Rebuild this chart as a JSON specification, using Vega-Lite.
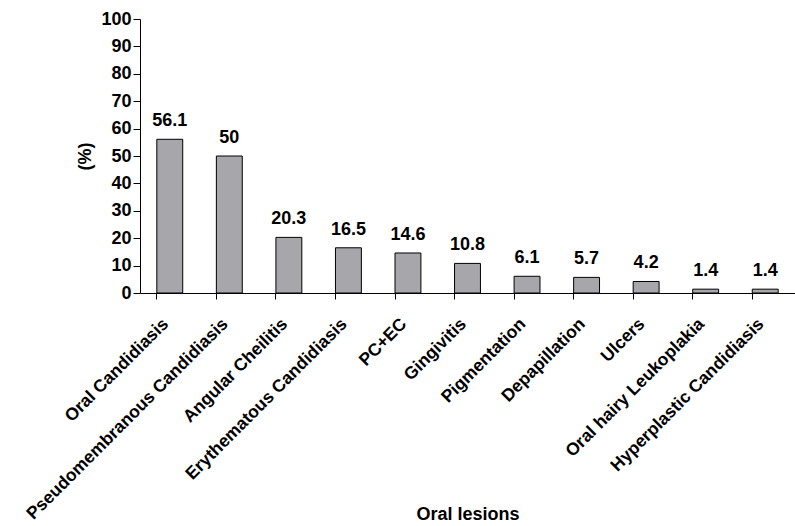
{
  "$schema": "https://vega.github.io/schema/vega-lite/v6.json",
  "width": 655,
  "height": 274,
  "autosize": {"type": "none"},
  "padding": {"left": 140, "top": 19, "right": 0, "bottom": 233},
  "background": "white",
  "config": {
    "view": {"stroke": null},
    "font": "Liberation Sans",
    "axis": {
      "domainColor": "black",
      "tickColor": "black",
      "labelColor": "black",
      "titleColor": "black",
      "labelFont": "Liberation Sans",
      "titleFont": "Liberation Sans",
      "labelFontWeight": "bold",
      "titleFontWeight": "bold",
      "labelFontSize": 18,
      "titleFontSize": 18,
      "grid": false
    }
  },
  "data": {
    "values": [
      {"lesion": "Oral Candidiasis", "pct": 56.1},
      {"lesion": "Pseudomembranous Candidiasis", "pct": 50},
      {"lesion": "Angular Cheilitis", "pct": 20.3},
      {"lesion": "Erythematous Candidiasis", "pct": 16.5},
      {"lesion": "PC+EC", "pct": 14.6},
      {"lesion": "Gingivitis", "pct": 10.8},
      {"lesion": "Pigmentation", "pct": 6.1},
      {"lesion": "Depapillation", "pct": 5.7},
      {"lesion": "Ulcers", "pct": 4.2},
      {"lesion": "Oral hairy Leukoplakia", "pct": 1.4},
      {"lesion": "Hyperplastic Candidiasis", "pct": 1.4}
    ]
  },
  "encoding": {
    "x": {
      "field": "lesion",
      "type": "nominal",
      "sort": null,
      "scale": {"paddingInner": 0.565, "paddingOuter": 0.2825},
      "axis": {
        "title": "Oral lesions",
        "labelAngle": -45,
        "labelAlign": "right",
        "labelBaseline": "middle",
        "labelFontSize": 17.5,
        "labelPadding": 22,
        "labelOffset": -4,
        "tickSize": 6,
        "bandPosition": 0,
        "labelLimit": 400,
        "titleY": 212,
        "titleBaseline": "top"
      }
    },
    "y": {
      "field": "pct",
      "type": "quantitative",
      "scale": {"domain": [0, 100], "nice": false},
      "axis": {
        "title": "(%)",
        "values": [0, 10, 20, 30, 40, 50, 60, 70, 80, 90, 100],
        "tickSize": 7,
        "labelPadding": 2,
        "titlePadding": 6
      }
    }
  },
  "layer": [
    {
      "mark": {"type": "bar", "fill": "#a7a7ab", "stroke": "black", "strokeWidth": 1}
    },
    {
      "mark": {
        "type": "text",
        "dy": -13,
        "baseline": "alphabetic",
        "fontSize": 18,
        "fontWeight": "bold",
        "font": "Liberation Sans",
        "color": "black"
      },
      "encoding": {"text": {"field": "pct", "type": "quantitative"}}
    }
  ]
}
